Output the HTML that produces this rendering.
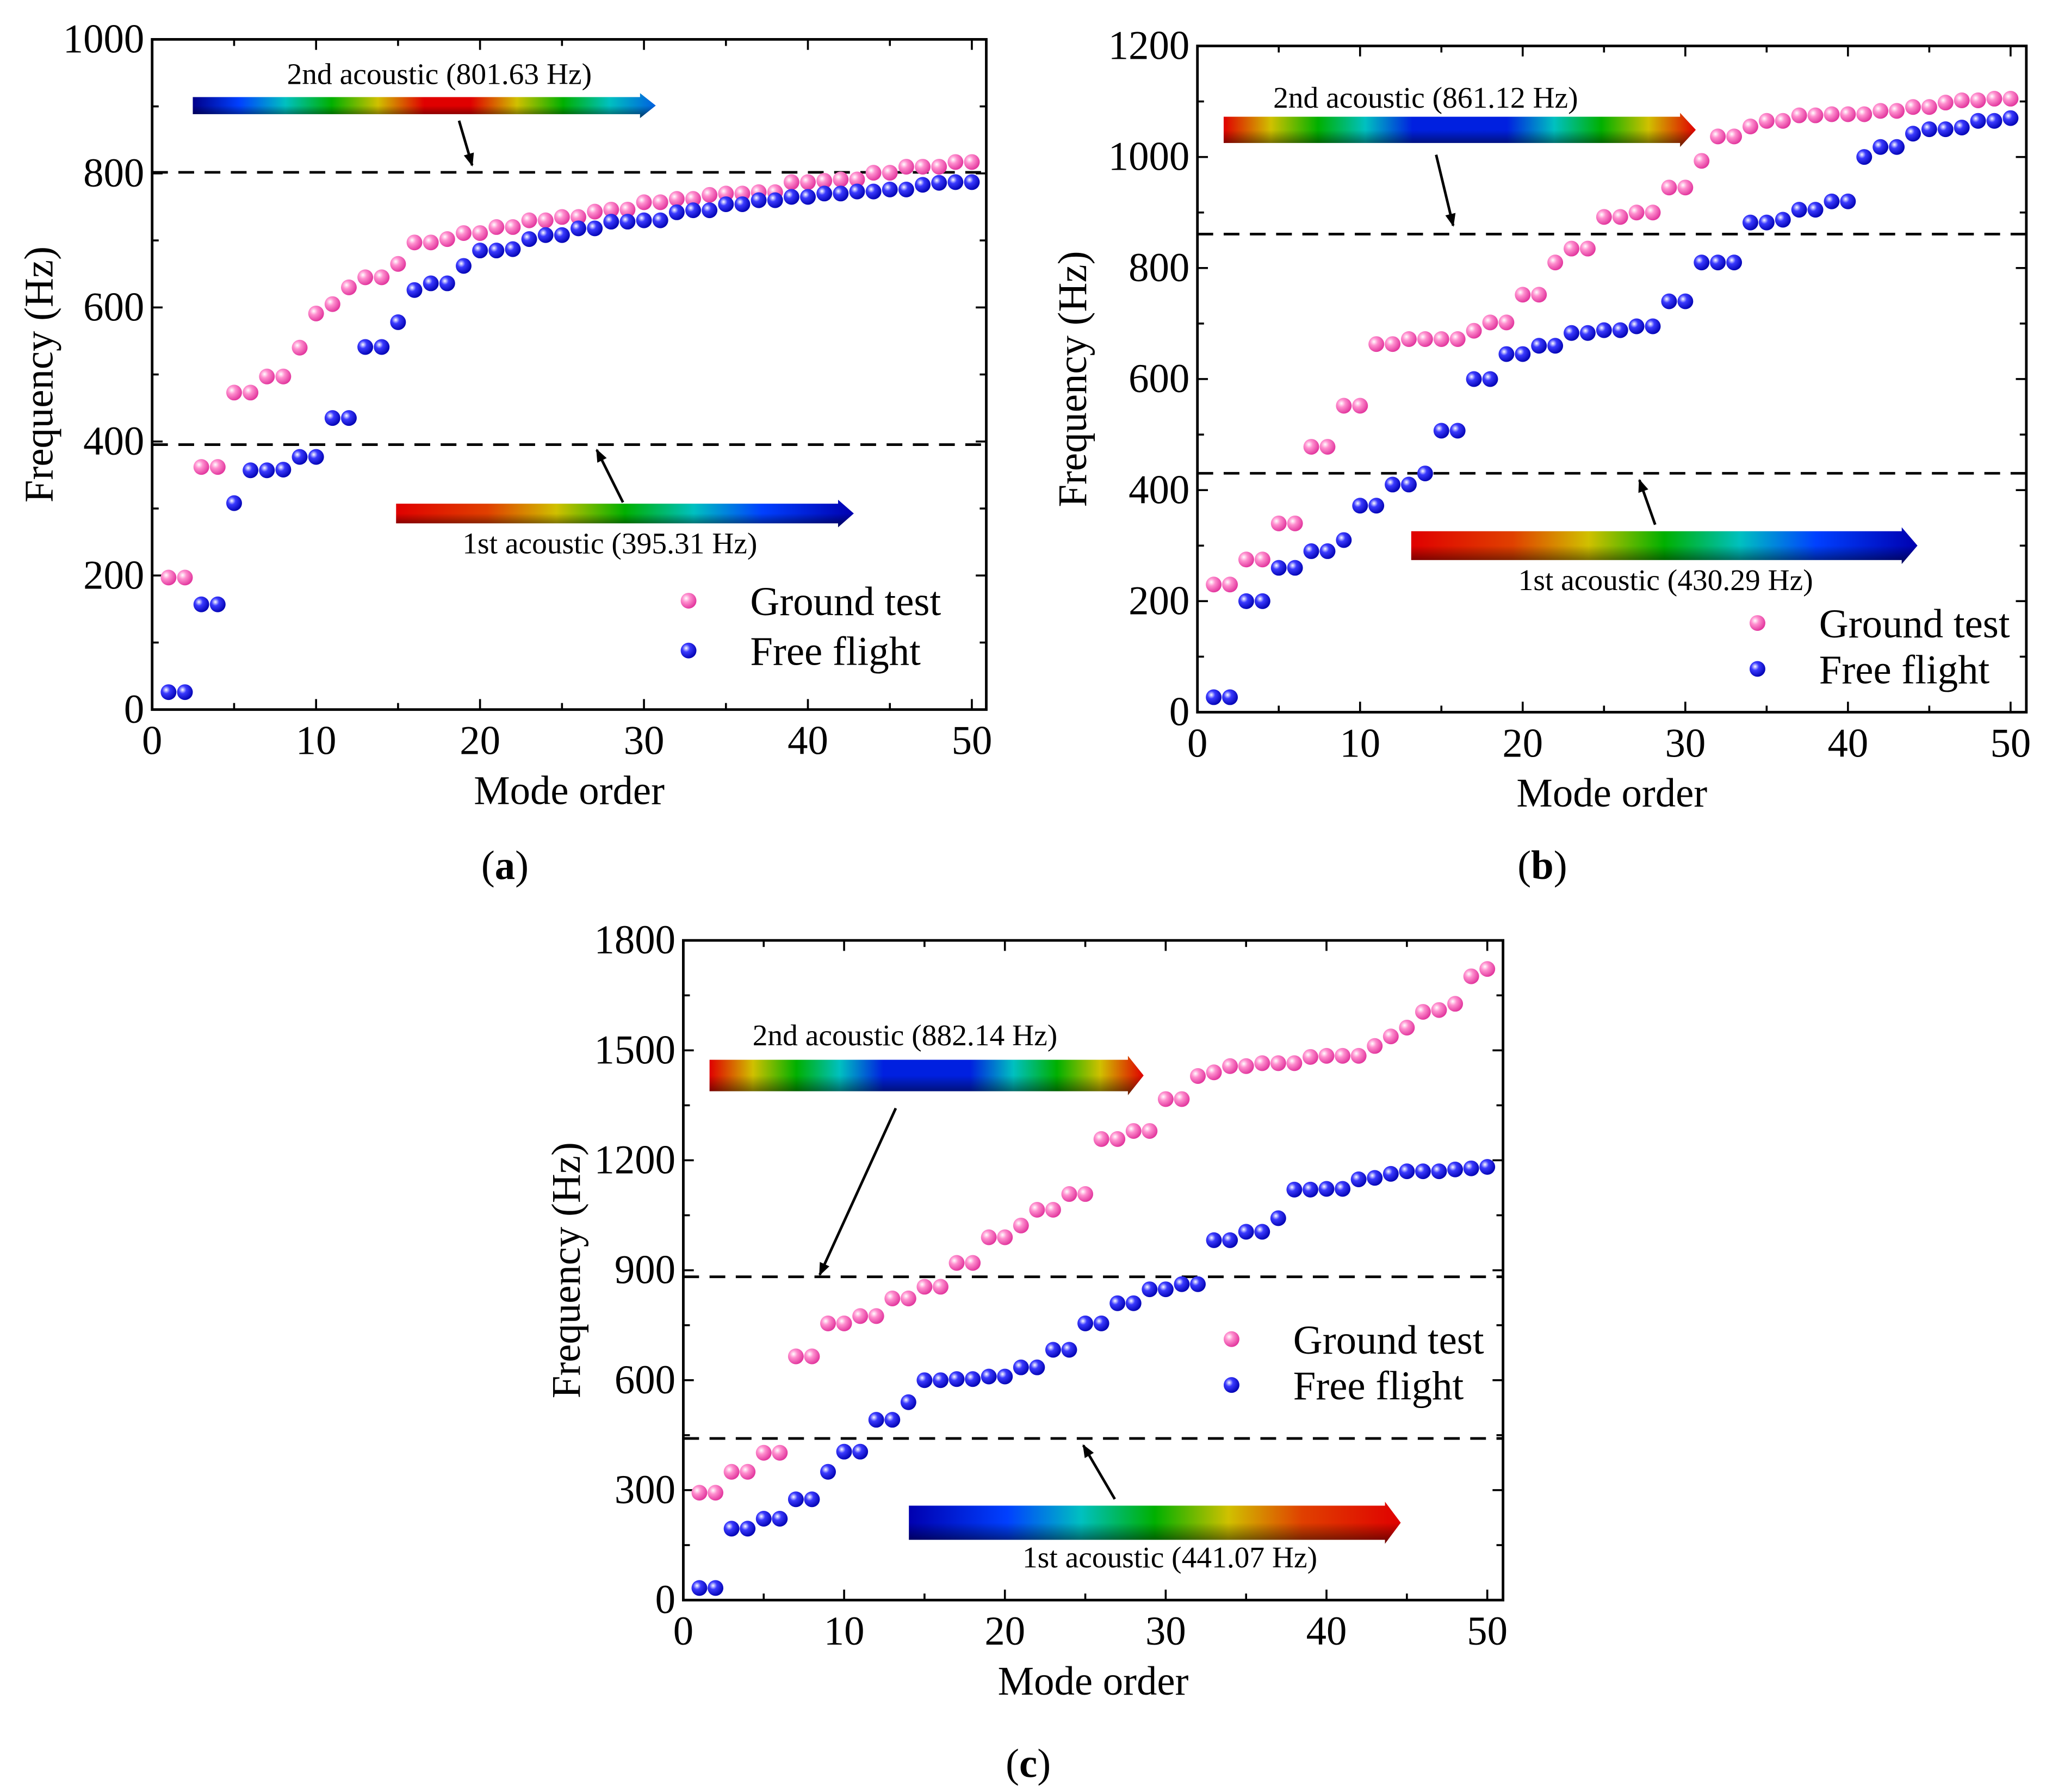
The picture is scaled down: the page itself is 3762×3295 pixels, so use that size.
<!DOCTYPE html>
<html><head><meta charset="utf-8"><style>
html,body{margin:0;padding:0;background:#fff}
svg{display:block}
svg text, svg tspan{font-family:"Liberation Serif","Times New Roman",serif !important;fill:#000}
</style></head><body>
<svg id="fig" xmlns="http://www.w3.org/2000/svg" width="3762" height="3295" viewBox="0 0 1560 1366.3" font-family="Liberation Serif, serif">
<defs>
<radialGradient id="gPink" cx="0.35" cy="0.35" r="0.7"><stop offset="0" stop-color="#fff"/><stop offset="0.35" stop-color="#ff8fcf"/><stop offset="1" stop-color="#e0309a"/></radialGradient>
<radialGradient id="gBlue" cx="0.35" cy="0.35" r="0.7"><stop offset="0" stop-color="#fff"/><stop offset="0.35" stop-color="#3a3aff"/><stop offset="1" stop-color="#0000b0"/></radialGradient>
<linearGradient id="shade" x1="0" y1="0" x2="0" y2="1"><stop offset="0" stop-color="#fff" stop-opacity="0"/><stop offset="0.5" stop-color="#000" stop-opacity="0"/><stop offset="1" stop-color="#000" stop-opacity="0.55"/></linearGradient>
<linearGradient id="gradA2"><stop offset="0" stop-color="#00008a"/><stop offset="0.1" stop-color="#0040ff"/><stop offset="0.2" stop-color="#00c0c0"/><stop offset="0.3" stop-color="#00b000"/><stop offset="0.4" stop-color="#d0c000"/><stop offset="0.5" stop-color="#e00000"/><stop offset="0.6" stop-color="#e00000"/><stop offset="0.7" stop-color="#d0c000"/><stop offset="0.8" stop-color="#00b000"/><stop offset="0.9" stop-color="#00c0c0"/><stop offset="1" stop-color="#0060e0"/></linearGradient>
<linearGradient id="gradRB"><stop offset="0" stop-color="#e00000"/><stop offset="0.2" stop-color="#e04000"/><stop offset="0.35" stop-color="#d0c000"/><stop offset="0.5" stop-color="#00b000"/><stop offset="0.65" stop-color="#00c0c0"/><stop offset="0.8" stop-color="#0040ff"/><stop offset="1" stop-color="#0000b0"/></linearGradient>
<linearGradient id="gradBR"><stop offset="0" stop-color="#0000b0"/><stop offset="0.2" stop-color="#0040ff"/><stop offset="0.35" stop-color="#00c0c0"/><stop offset="0.5" stop-color="#00b000"/><stop offset="0.65" stop-color="#d0c000"/><stop offset="0.8" stop-color="#e04000"/><stop offset="1" stop-color="#e00000"/></linearGradient>
<linearGradient id="gradRBR"><stop offset="0" stop-color="#e00000"/><stop offset="0.1" stop-color="#d0c000"/><stop offset="0.2" stop-color="#00b000"/><stop offset="0.3" stop-color="#00c0c0"/><stop offset="0.4" stop-color="#0020e0"/><stop offset="0.6" stop-color="#0020e0"/><stop offset="0.7" stop-color="#00c0c0"/><stop offset="0.8" stop-color="#00b000"/><stop offset="0.9" stop-color="#d0c000"/><stop offset="1" stop-color="#e00000"/></linearGradient>
<marker id="ah" markerWidth="10" markerHeight="10" refX="9" refY="5" orient="auto" markerUnits="userSpaceOnUse"><path d="M0,1 L10,5 L0,9 Z" fill="#000"/></marker>
</defs>
</svg>
<script>
// ---- data ----
const modes = [];
for (let i = 1; i <= 50; i++) modes.push(i);
const groundA = [197,197,362,362,473,473,497,497,540,591,605,630,645,645,665,697,697,702,711,711,720,720,730,730,735,735,743,746,746,757,757,762,762,768,770,770,772,772,787,787,789,791,791,801,801,810,810,810,817,817];
const freeA = [26,26,157,157,308,357,357,358,377,377,435,435,541,541,578,626,636,636,662,685,685,687,702,708,708,718,718,728,728,730,730,742,745,745,754,754,760,760,765,765,770,770,773,773,776,776,783,786,787,787];
const groundB = [230,230,275,275,340,340,478,478,552,552,663,663,672,672,672,672,687,702,702,752,752,810,835,835,892,892,900,900,945,945,993,1037,1037,1055,1065,1065,1075,1075,1077,1077,1077,1083,1083,1090,1090,1098,1102,1102,1105,1105];
const freeB = [27,27,200,200,260,260,290,290,310,372,372,410,410,430,507,507,600,600,645,645,660,660,683,683,688,688,695,695,740,740,810,810,810,882,882,887,905,905,920,920,1000,1018,1018,1042,1050,1050,1053,1065,1065,1070];
const groundC = [293,293,350,350,402,402,665,665,755,755,775,775,823,823,855,855,920,920,990,990,1022,1065,1065,1108,1108,1258,1258,1280,1280,1367,1367,1430,1440,1457,1457,1465,1465,1465,1482,1485,1485,1485,1512,1538,1562,1605,1610,1627,1702,1722];
const freeC = [33,33,195,195,222,222,275,275,350,405,405,492,492,540,600,600,603,603,610,610,635,635,683,683,755,755,810,810,848,848,862,862,982,982,1005,1005,1042,1120,1120,1122,1122,1148,1152,1163,1170,1170,1170,1175,1178,1182];
const xTicks = [0,10,20,30,40,50];
const yTicksA = [0,200,400,600,800,1000];
const yTicksB = [0,200,400,600,800,1000,1200];
const yTicksC = [0,300,600,900,1200,1500,1800];
const acousticA = [395.31, 801.63];
const acousticB = [430.29, 861.12];
const acousticC = [441.07, 882.14];

const NS = "http://www.w3.org/2000/svg";
const svg = document.getElementById('fig');
function mk(tag, attrs, parent, txt) {
  const e = document.createElementNS(NS, tag);
  for (const k in attrs) e.setAttribute(k, attrs[k]);
  if (tag === 'text') e.setAttribute('font-family', 'Liberation Serif, serif');
  if (txt !== undefined) e.textContent = txt;
  (parent || svg).appendChild(e);
  return e;
}

function panel(p) {
  const g = mk('g', {});
  
  
  const X = v => p.x0 + (v - 0) / 50 * (p.x50 - p.x0);
  const Y = v => p.y0 - v / p.ymax * (p.y0 - p.ytop);
  const fr = mk('rect', {x: p.x0, y: p.ytop, width: p.xr - p.x0, height: p.y0 - p.ytop, fill: 'none', stroke: '#000', 'stroke-width': 2}, g);
  
  
  for (let v = 0; v <= 50; v += 5) {
    const len = v % 10 === 0 ? 8 : 5;
    mk('line', {x1: X(v), x2: X(v), y1: p.y0, y2: p.y0 - len, stroke: '#000', 'stroke-width': 1.5}, g);
    mk('line', {x1: X(v), x2: X(v), y1: p.ytop, y2: p.ytop + len, stroke: '#000', 'stroke-width': 1.5}, g);
  }
  xTicks.forEach(v => {
    const t = mk('text', {x: X(v), y: p.y0 + 34, 'text-anchor': 'middle', 'font-size': 31}, g, String(v));
    
    
  });
  const yt = p.yticks;
  const step = yt[1] - yt[0];
  for (let v = 0; v <= p.ymax + 0.1; v += step / 2) {
    const major = Math.abs(v / step - Math.round(v / step)) < 1e-6;
    const len = major ? 8 : 5;
    mk('line', {x1: p.x0, x2: p.x0 + len, y1: Y(v), y2: Y(v), stroke: '#000', 'stroke-width': 1.5}, g);
    mk('line', {x1: p.xr, x2: p.xr - len, y1: Y(v), y2: Y(v), stroke: '#000', 'stroke-width': 1.5}, g);
  }
  yt.forEach(v => {
    const t = mk('text', {x: p.x0 - 6, y: Y(v) + 10, 'text-anchor': 'end', 'font-size': 31}, g, String(v));
    
    
  });
  const xt = mk('text', {x: (p.x0 + p.xr) / 2, y: p.y0 + 72, 'text-anchor': 'middle', 'font-size': 31}, g, 'Mode order');
  
  
  const ytl = mk('text', {x: 0, y: 0, 'text-anchor': 'middle', 'font-size': 31, transform: `translate(${p.ytx},${(p.y0 + p.ytop) / 2}) rotate(-90)`}, g, 'Frequency (Hz)');
  
  
  p.acoustic.forEach((v, i) => {
    const l = mk('line', {x1: p.x0, x2: p.xr, y1: Y(v), y2: Y(v), stroke: '#000', 'stroke-width': 2, 'stroke-dasharray': '12,8'}, g);
    
    
  });
  p.bars.forEach((b, i) => {
    const bg = mk('g', {}, g);
    
    
    const h = b.h, hw = 12;
    const path = `M${b.x1},${b.y} L${b.x2 - hw},${b.y} L${b.x2 - hw},${b.y - 3} L${b.x2},${b.y + h / 2} L${b.x2 - hw},${b.y + h + 3} L${b.x2 - hw},${b.y + h} L${b.x1},${b.y + h} Z`;
    mk('path', {d: path, fill: `url(#${b.grad})`}, bg);
    mk('path', {d: path, fill: 'url(#shade)'}, bg);
    const t = mk('text', {x: b.tx, y: b.ty, 'text-anchor': 'middle', 'font-size': 23}, bg, b.label);
    
    
    const a = mk('line', {x1: b.a[0], y1: b.a[1], x2: b.a[2], y2: b.a[3], stroke: '#000', 'stroke-width': 2, 'marker-end': 'url(#ah)'}, bg);
    
    
  });
  const sg = mk('g', {}, g);
  
  
  p.ground.forEach((v, i) => {
    const c = mk('circle', {cx: X(modes[i]), cy: Y(v), r: 6, fill: 'url(#gPink)'}, sg);
    
    
  });
  const fg = mk('g', {}, g);
  
  
  p.free.forEach((v, i) => {
    const c = mk('circle', {cx: X(modes[i]), cy: Y(v), r: 6, fill: 'url(#gBlue)'}, fg);
    
    
  });
  const lg = mk('g', {}, g);
  
  
  const e1 = mk('g', {}, lg);
  
  
  mk('circle', {cx: p.lx, cy: p.ly, r: 6, fill: 'url(#gPink)'}, e1);
  mk('text', {x: p.lx + 47, y: p.ly + 11, 'font-size': 31}, e1, 'Ground test');
  const e2 = mk('g', {}, lg);
  
  
  mk('circle', {cx: p.lx, cy: p.ly + p.lgap, r: 6, fill: 'url(#gBlue)'}, e2);
  mk('text', {x: p.lx + 47, y: p.ly + p.lgap + 11, 'font-size': 31}, e2, 'Free flight');
  const cap = mk('text', {x: p.cx, y: p.cy, 'text-anchor': 'middle', 'font-size': 31}, g);
  
  
  mk('tspan', {}, cap, '(');
  mk('tspan', {'font-weight': 'bold'}, cap, p.id);
  mk('tspan', {}, cap, ')');
}

panel({id: 'a', x0: 116, x50: 741, xr: 752, y0: 541, ytop: 30, ymax: 1000, yticks: yTicksA, ytx: 40,
  ground: groundA, free: freeA, acoustic: acousticA, lx: 525, ly: 458, lgap: 38, cx: 385, cy: 670,
  bars: [
    {x1: 147, x2: 500, y: 74, h: 13, grad: 'gradA2', tx: 335, ty: 64, label: '2nd acoustic (801.63 Hz)', a: [350, 92, 360, 126]},
    {x1: 302, x2: 651, y: 384, h: 15, grad: 'gradRB', tx: 465, ty: 422, label: '1st acoustic (395.31 Hz)', a: [475, 383, 455, 343]}
  ]});
panel({id: 'b', x0: 913, x50: 1533, xr: 1545, y0: 543, ytop: 35, ymax: 1200, yticks: yTicksB, ytx: 828,
  ground: groundB, free: freeB, acoustic: acousticB, lx: 1340, ly: 475, lgap: 35, cx: 1176, cy: 670,
  bars: [
    {x1: 933, x2: 1293, y: 89, h: 20, grad: 'gradRBR', tx: 1087, ty: 82, label: '2nd acoustic (861.12 Hz)', a: [1095, 118, 1108, 172]},
    {x1: 1076, x2: 1462, y: 405, h: 22, grad: 'gradRB', tx: 1270, ty: 450, label: '1st acoustic (430.29 Hz)', a: [1262, 400, 1250, 366]}
  ]});
panel({id: 'c', x0: 521, x50: 1134, xr: 1146, y0: 1220, ytop: 717, ymax: 1800, yticks: yTicksC, ytx: 442,
  ground: groundC, free: freeC, acoustic: acousticC, lx: 939, ly: 1021, lgap: 35, cx: 784, cy: 1355,
  bars: [
    {x1: 541, x2: 872, y: 808, h: 24, grad: 'gradRBR', tx: 690, ty: 797, label: '2nd acoustic (882.14 Hz)', a: [683, 845, 625, 972]},
    {x1: 693, x2: 1068, y: 1148, h: 26, grad: 'gradBR', tx: 892, ty: 1195, label: '1st acoustic (441.07 Hz)', a: [850, 1143, 826, 1102]}
  ]});
</script>
</body></html>
